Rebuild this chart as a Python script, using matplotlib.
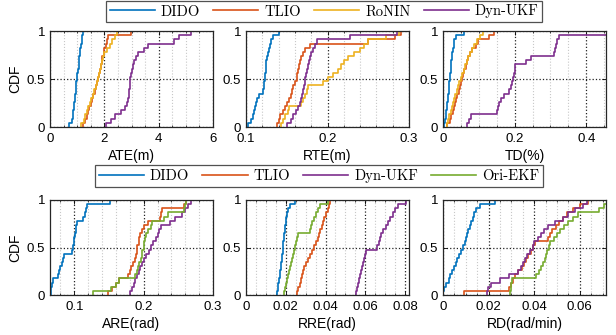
import matplotlib
matplotlib.use("Agg")
import matplotlib.pyplot as plt
import numpy as np
from matplotlib.ticker import MultipleLocator
from matplotlib.lines import Line2D

# CDF samples (23 runs per method)
ate_dido = [0.70, 0.82, 0.84, 0.86, 0.88, 0.90, 0.91, 0.93, 0.94, 0.95, 0.96, 0.99,
            1.01, 1.03, 1.05, 1.07, 1.08, 1.10, 1.12, 1.14, 1.16, 1.18, 1.20]
ate_tlio = [1.20, 1.30, 1.35, 1.40, 1.45, 1.50, 1.55, 1.60, 1.65, 1.70, 1.73, 1.76,
            1.80, 1.83, 1.87, 1.90, 1.93, 1.97, 2.00, 2.05, 2.10, 2.15, 2.97]
ate_ronin = [1.15, 1.25, 1.30, 1.35, 1.40, 1.47, 1.52, 1.58, 1.63, 1.68, 1.72, 1.76,
             1.80, 1.84, 1.88, 1.92, 1.96, 2.00, 2.10, 2.20, 2.30, 2.38, 2.45]
ate_dynukf = [2.05, 2.25, 2.40, 2.60, 2.75, 2.85, 2.87, 2.90, 2.92, 2.93, 2.95, 2.96,
              2.98, 3.00, 3.05, 3.08, 3.15, 3.25, 3.45, 3.60, 4.55, 4.75, 5.20]

rte_dido = [0.103, 0.106, 0.108, 0.110, 0.111, 0.112, 0.114, 0.116, 0.121, 0.122, 0.122, 0.123,
            0.123, 0.124, 0.124, 0.125, 0.126, 0.127, 0.128, 0.130, 0.131, 0.133, 0.140]
rte_tlio = [0.138, 0.140, 0.142, 0.145, 0.148, 0.150, 0.153, 0.155, 0.157, 0.158, 0.160, 0.162,
            0.163, 0.164, 0.165, 0.166, 0.168, 0.170, 0.172, 0.178, 0.250, 0.283, 0.290]
rte_ronin = [0.143, 0.146, 0.148, 0.151, 0.153, 0.168, 0.170, 0.172, 0.175, 0.176, 0.195, 0.200,
             0.207, 0.213, 0.217, 0.220, 0.225, 0.232, 0.240, 0.245, 0.250, 0.272, 0.288]
rte_dynukf = [0.150, 0.155, 0.158, 0.161, 0.164, 0.166, 0.168, 0.169, 0.170, 0.171, 0.172, 0.173,
              0.174, 0.175, 0.176, 0.177, 0.178, 0.180, 0.182, 0.185, 0.187, 0.227, 0.285]

td_dido = [0.003, 0.005, 0.007, 0.009, 0.010, 0.012, 0.013, 0.014, 0.016, 0.017, 0.018, 0.019,
           0.020, 0.021, 0.022, 0.023, 0.025, 0.026, 0.028, 0.030, 0.032, 0.035, 0.058]
td_tlio = [0.012, 0.020, 0.023, 0.027, 0.030, 0.034, 0.037, 0.040, 0.044, 0.048, 0.051, 0.054,
           0.057, 0.060, 0.063, 0.066, 0.070, 0.075, 0.080, 0.092, 0.097, 0.128, 0.142]
td_ronin = [0.012, 0.015, 0.018, 0.021, 0.025, 0.028, 0.031, 0.034, 0.038, 0.042, 0.046, 0.050,
            0.054, 0.058, 0.062, 0.066, 0.070, 0.075, 0.080, 0.087, 0.095, 0.103, 0.112]
td_dynukf = [0.066, 0.072, 0.077, 0.150, 0.153, 0.157, 0.162, 0.170, 0.185, 0.190, 0.193, 0.196,
             0.198, 0.200, 0.202, 0.233, 0.245, 0.310, 0.312, 0.315, 0.318, 0.325, 0.600]

are_dido = [0.066, 0.067, 0.068, 0.069, 0.076, 0.078, 0.080, 0.082, 0.084, 0.085, 0.097, 0.098,
            0.099, 0.100, 0.101, 0.102, 0.103, 0.104, 0.113, 0.115, 0.117, 0.119, 0.152]
are_tlio = [0.149, 0.155, 0.160, 0.165, 0.178, 0.180, 0.182, 0.185, 0.187, 0.189, 0.190, 0.191,
            0.193, 0.194, 0.195, 0.197, 0.200, 0.206, 0.223, 0.225, 0.227, 0.258, 0.261]
are_dynukf = [0.180, 0.183, 0.186, 0.188, 0.190, 0.193, 0.195, 0.198, 0.200, 0.203, 0.208, 0.210,
              0.214, 0.218, 0.220, 0.222, 0.225, 0.238, 0.245, 0.255, 0.260, 0.264, 0.268]
are_oriekf = [0.127, 0.153, 0.160, 0.165, 0.187, 0.190, 0.192, 0.194, 0.196, 0.197, 0.198, 0.200,
              0.201, 0.202, 0.204, 0.206, 0.210, 0.212, 0.230, 0.235, 0.258, 0.260, 0.261]

rre_dido = [0.0155, 0.0160, 0.0163, 0.0166, 0.0170, 0.0173, 0.0176, 0.0178, 0.0180, 0.0182, 0.0184, 0.0186,
            0.0188, 0.0190, 0.0192, 0.0195, 0.0198, 0.0200, 0.0203, 0.0207, 0.0210, 0.0220, 0.0245]
rre_tlio = [0.0255, 0.0260, 0.0270, 0.0275, 0.0280, 0.0285, 0.0290, 0.0300, 0.0310, 0.0320, 0.0330, 0.0340,
            0.0350, 0.0360, 0.0365, 0.0370, 0.0380, 0.0385, 0.0390, 0.0400, 0.0410, 0.0420, 0.0425]
rre_dynukf = [0.0555, 0.0560, 0.0565, 0.0570, 0.0575, 0.0580, 0.0585, 0.0590, 0.0595, 0.0600, 0.0605, 0.0660,
              0.0670, 0.0675, 0.0680, 0.0690, 0.0705, 0.0715, 0.0725, 0.0740, 0.0750, 0.0765, 0.0805]
rre_oriekf = [0.0190, 0.0195, 0.0200, 0.0205, 0.0210, 0.0215, 0.0220, 0.0225, 0.0230, 0.0235, 0.0240, 0.0245,
              0.0250, 0.0255, 0.0260, 0.0320, 0.0325, 0.0330, 0.0340, 0.0350, 0.0360, 0.0370, 0.0415]

rd_dido = [0.0002, 0.0005, 0.0015, 0.0026, 0.0032, 0.0040, 0.0048, 0.0055, 0.0060, 0.0070, 0.0078, 0.0088,
           0.0095, 0.0100, 0.0105, 0.0110, 0.0118, 0.0123, 0.0130, 0.0137, 0.0145, 0.0163, 0.0227]
rd_tlio = [0.0094, 0.0290, 0.0298, 0.0305, 0.0315, 0.0330, 0.0345, 0.0355, 0.0365, 0.0375, 0.0385, 0.0395,
           0.0405, 0.0460, 0.0470, 0.0480, 0.0495, 0.0510, 0.0525, 0.0545, 0.0570, 0.0600, 0.0635]
rd_dynukf = [0.0194, 0.0198, 0.0210, 0.0248, 0.0290, 0.0330, 0.0340, 0.0350, 0.0360, 0.0370, 0.0380, 0.0393,
             0.0400, 0.0415, 0.0430, 0.0445, 0.0460, 0.0490, 0.0525, 0.0550, 0.0580, 0.0615, 0.0630]
rd_oriekf = [0.0296, 0.0298, 0.0300, 0.0302, 0.0410, 0.0420, 0.0430, 0.0440, 0.0448, 0.0453, 0.0458, 0.0463,
             0.0470, 0.0485, 0.0500, 0.0515, 0.0530, 0.0550, 0.0570, 0.0590, 0.0685, 0.0705, 0.0720]

COLORS = {"DIDO": "#0072BD", "TLIO": "#D95319", "RoNIN": "#EDB120",
          "Dyn-UKF": "#7E2F8E", "Ori-EKF": "#77AC30"}

SANS = "Liberation Sans"
SERIF = "cmr10"

W, H = 616, 335
fig = plt.figure(figsize=(W / 100, H / 100), dpi=100)


def cdf(ax, vals, color):
    x = np.sort(vals)
    y = np.arange(1, len(x) + 1) / len(x)
    ax.step(np.r_[x[0], x], np.r_[0, y], where="post", color=color, lw=1.2)


def panel(px, py, pw, ph, series, xlim, xmin, xticks, xlabel, ylabel=False):
    ax = fig.add_axes([px / W, 1 - (py + ph) / H, pw / W, ph / H])
    ax.xaxis.set_minor_locator(MultipleLocator(xmin))
    ax.grid(which="minor", axis="x", ls=":", color="#c8c8c8", lw=0.8)
    ax.grid(which="major", ls=":", color="#222222", lw=0.9)
    ax.set_axisbelow(True)
    for name, vals in series:
        cdf(ax, vals, COLORS[name])
    ax.set_xlim(*xlim)
    ax.set_ylim(0, 1)
    ax.set_xticks(xticks[0])
    ax.set_xticklabels(xticks[1], fontfamily=SANS, fontsize=9.5)
    ax.set_yticks([0, 0.5, 1])
    ax.set_yticklabels(["0", "0.5", "1"], fontfamily=SANS, fontsize=9.5)
    ax.tick_params(which="both", direction="in", top=True, right=True)
    ax.tick_params(axis="x", pad=4.5)
    ax.tick_params(axis="y", pad=3.5)
    ax.tick_params(which="major", length=3, width=0.6)
    ax.tick_params(which="minor", length=1.5, width=0.5)
    ax.set_xlabel(xlabel, fontfamily=SANS, fontsize=10, labelpad=2.5)
    if ylabel:
        ax.set_ylabel("CDF", fontfamily=SANS, fontsize=10, labelpad=3)
    for s in ax.spines.values():
        s.set_linewidth(0.9)
        s.set_color("#262626")
    return ax


top_y, top_h = 31, 96
bot_y, bot_h = 200, 95
lefts = [50, 246, 443]
pw = 163

panel(lefts[0], top_y, pw, top_h,
      [("DIDO", ate_dido), ("TLIO", ate_tlio), ("RoNIN", ate_ronin), ("Dyn-UKF", ate_dynukf)],
      (0, 6), 0.5, ([0, 2, 4, 6], ["0", "2", "4", "6"]), "ATE(m)", ylabel=True)
panel(lefts[1], top_y, pw, top_h,
      [("DIDO", rte_dido), ("TLIO", rte_tlio), ("RoNIN", rte_ronin), ("Dyn-UKF", rte_dynukf)],
      (0.1, 0.3), 0.02, ([0.1, 0.2, 0.3], ["0.1", "0.2", "0.3"]), "RTE(m)")
panel(lefts[2], top_y, pw, top_h,
      [("DIDO", td_dido), ("TLIO", td_tlio), ("RoNIN", td_ronin), ("Dyn-UKF", td_dynukf)],
      (0, 0.455), 0.05, ([0, 0.2, 0.4], ["0", "0.2", "0.4"]), "TD(%)")

panel(lefts[0], bot_y, pw, bot_h,
      [("DIDO", are_dido), ("TLIO", are_tlio), ("Dyn-UKF", are_dynukf), ("Ori-EKF", are_oriekf)],
      (0.065, 0.3), 0.02, ([0.1, 0.2, 0.3], ["0.1", "0.2", "0.3"]), "ARE(rad)", ylabel=True)
panel(lefts[1], bot_y, pw, bot_h,
      [("DIDO", rre_dido), ("TLIO", rre_tlio), ("Dyn-UKF", rre_dynukf), ("Ori-EKF", rre_oriekf)],
      (0, 0.082), 0.005, ([0, 0.02, 0.04, 0.06, 0.08], ["0", "0.02", "0.04", "0.06", "0.08"]),
      "RRE(rad)")
panel(lefts[2], bot_y, pw, bot_h,
      [("DIDO", rd_dido), ("TLIO", rd_tlio), ("Dyn-UKF", rd_dynukf), ("Ori-EKF", rd_oriekf)],
      (0, 0.0715), 0.005, ([0, 0.02, 0.04, 0.06], ["0", "0.02", "0.04", "0.06"]),
      "RD(rad/min)")


def legend(names, cx, cy):
    handles = [Line2D([], [], color=COLORS[n], lw=1.2) for n in names]
    leg = fig.legend(handles, names, loc="center", bbox_to_anchor=(cx / W, 1 - cy / H),
                     ncol=len(names), frameon=True, fancybox=False, edgecolor="#262626",
                     handlelength=3.1, handletextpad=0.4, columnspacing=0.9,
                     borderpad=0.25, prop={"family": SERIF, "size": 10.5})
    leg.get_frame().set_linewidth(0.9)


legend(["DIDO", "TLIO", "RoNIN", "Dyn-UKF"], 324, 11.5)
legend(["DIDO", "TLIO", "Dyn-UKF", "Ori-EKF"], 319, 176)

fig.savefig("out.png", dpi=100)
